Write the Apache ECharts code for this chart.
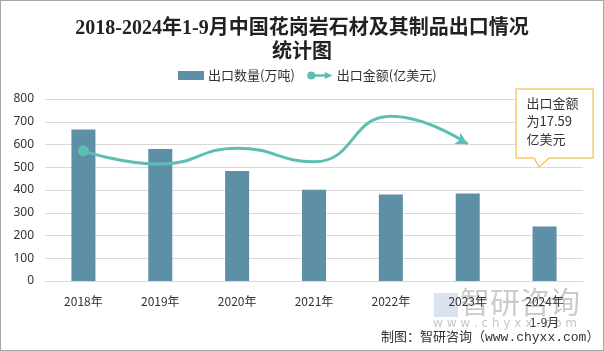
<!DOCTYPE html>
<html>
<head>
<meta charset="utf-8">
<style>
  html, body { margin: 0; padding: 0; background: #fff; }
  #chart { width: 604px; height: 351px; box-sizing: border-box; border: 1px solid #a6a6a6; }
</style>
<script src="https://cdn.jsdelivr.net/npm/echarts@6/dist/echarts.min.js"></script>
</head>
<body>
<div id="chart"></div>
<script>
const years = ['2018年', '2019年', '2020年', '2021年', '2022年', '2023年', '2024年\n1-9月'];
const exportVolume = [666, 580, 484, 401, 380, 385, 240];      // 出口数量(万吨)
const exportValue = [28.6, 25.7, 29.2, 26.2, 36.2, 30.1, null]; // 出口金额(亿美元)
const latestValue = 17.59;

const colors = {
  bar: '#5d8fa6',
  line: '#5dbfb4',
  grid: '#d9d9d9',
  text: '#333333',
  note: '#f0b429'
};

const chart = echarts.init(document.getElementById('chart'));

// 折线：首点圆点，末点箭头
const lineData = exportValue.map((v, i) => {
  if (i === 0) return { value: v, symbol: 'circle', symbolSize: 11 };
  if (i === exportValue.length - 2) return { value: v, symbol: 'arrow', symbolSize: [10, 12], symbolRotate: -118 };
  return { value: v, symbol: 'none' };
});

const legendLineIcon = 'image://data:image/svg+xml;utf8,<svg xmlns="http://www.w3.org/2000/svg" width="29" height="10"><line x1="4" y1="5" x2="22" y2="5" stroke="%235dbfb4" stroke-width="3"/><circle cx="5" cy="5" r="4.5" fill="%235dbfb4"/><polygon points="20,1 29,5 20,9" fill="%235dbfb4"/></svg>';

const option = {
  backgroundColor: '#fff',
  animation: false,
  title: {
    text: '2018-2024年1-9月中国花岗岩石材及其制品出口情况\n统计图',
    left: 'center',
    top: 11,
    textStyle: {
      color: '#222',
      fontSize: 20,
      fontWeight: 'bold',
      lineHeight: 24,
      fontFamily: '"Liberation Serif", "Noto Sans CJK SC", serif'
    }
  },
  legend: {
    top: 63,
    left: 172,
    itemGap: 12,
    textStyle: { color: colors.text, fontSize: 13, padding: [0, 0, 0, -1], fontFamily: '"Noto Sans CJK SC", sans-serif' },
    data: [
      { name: '出口数量(万吨)', icon: 'rect', itemStyle: { color: colors.bar }, itemHeight: 7 },
      { name: '出口金额(亿美元)', icon: legendLineIcon }
    ],
    itemWidth: 26,
    itemHeight: 9
  },
  grid: { left: 44, right: 20, top: 98, bottom: 69 },
  xAxis: {
    type: 'category',
    data: years,
    axisTick: { show: false },
    axisLine: { lineStyle: { color: colors.grid } },
    axisLabel: { color: colors.text, fontSize: 12, margin: 10, lineHeight: 21, interval: 0, fontFamily: '"Noto Sans CJK SC", sans-serif' }
  },
  yAxis: [
    {
      type: 'value',
      min: 0,
      max: 800,
      interval: 100,
      axisLine: { show: false },
      axisTick: { show: false },
      axisLabel: { color: colors.text, fontSize: 12, margin: 11, fontFamily: '"Noto Sans", sans-serif' },
      splitLine: { lineStyle: { color: colors.grid, width: 1 } }
    },
    {
      type: 'value',
      min: 0,
      max: 40,
      show: false,
      splitLine: { show: false }
    }
  ],
  series: [
    {
      name: '出口数量(万吨)',
      type: 'bar',
      data: exportVolume,
      barWidth: 24,
      itemStyle: { color: colors.bar },
      markPoint: {
        silent: true,
        data: [{
          coord: [years.length - 1, 501],
          symbol: 'path://M0,0 L77,0 L77,69 L33,69 L23,78 L18,69 L0,69 Z',
          symbolSize: [77, 78],
          symbolOffset: [10, -39],
          itemStyle: { color: '#fff', borderColor: colors.note, borderWidth: 1 },
          label: {
            show: true,
            position: [11, 6],
            align: 'left',
            verticalAlign: 'top',
            color: colors.text,
            fontSize: 13,
            lineHeight: 18,
            fontFamily: '"Noto Sans CJK SC", sans-serif',
            formatter: '出口金额\n为' + latestValue + '\n亿美元'
          }
        }]
      }
    },
    {
      name: '出口金额(亿美元)',
      type: 'line',
      yAxisIndex: 1,
      data: lineData,
      smooth: 0.5,
      showSymbol: true,
      lineStyle: { width: 3, color: colors.line },
      itemStyle: { color: colors.line }
    }
  ],
  graphic: [
    {
      type: 'text',
      left: 380,
      top: 330,
      style: { text: '制图：智研咨询（www.chyxx.com）', fill: colors.text, fontSize: 13, fontFamily: '"Liberation Mono", "Noto Sans CJK SC", monospace' }
    },
    {
      type: 'text',
      left: 459,
      top: 286,
      z: -1,
      style: { text: '智研咨询', fill: 'rgba(160,160,160,0.55)', fontSize: 30, fontFamily: '"Noto Sans CJK SC", sans-serif' }
    },
    {
      type: 'text',
      left: 432,
      top: 317,
      z: -1,
      style: { text: 'w w w . c h y x x . c o m', fill: 'rgba(160,160,160,0.6)', fontSize: 12, fontFamily: '"DejaVu Sans", sans-serif' }
    },
    {
      type: 'rect',
      left: 433,
      top: 292,
      z: -1,
      shape: { width: 24, height: 24 },
      style: { fill: 'rgba(150,170,210,0.35)' }
    }
  ]
};

chart.setOption(option);
window.addEventListener('resize', () => chart.resize());
</script>
</body>
</html>
